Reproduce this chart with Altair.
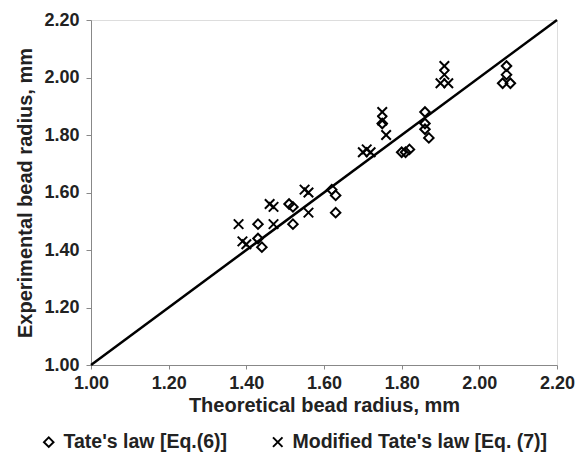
import altair as alt
import pandas as pd

# Tate's law [Eq.(6)]  (diamonds)
tate_x = [1.43, 1.44, 1.43, 1.52, 1.51, 1.52, 1.62, 1.63, 1.63, 1.75, 1.80, 1.81, 1.82,
          1.86, 1.86, 1.86, 1.87, 2.07, 2.07, 2.06, 2.08]
tate_y = [1.49, 1.41, 1.44, 1.55, 1.56, 1.49, 1.61, 1.59, 1.53, 1.84, 1.74, 1.74, 1.75,
          1.88, 1.84, 1.82, 1.79, 2.04, 2.01, 1.98, 1.98]

# Modified Tate's law [Eq. (7)]  (crosses)
mod_x = [1.38, 1.39, 1.40, 1.46, 1.47, 1.47, 1.55, 1.56, 1.56, 1.70, 1.71, 1.72,
         1.75, 1.75, 1.76, 1.90, 1.91, 1.91, 1.92]
mod_y = [1.49, 1.43, 1.42, 1.56, 1.55, 1.49, 1.61, 1.60, 1.53, 1.74, 1.75, 1.74,
         1.88, 1.85, 1.80, 1.98, 2.04, 2.01, 1.98]

# 1:1 line
line_x = [1.0, 2.2]
line_y = [1.0, 2.2]

series = ["Tate's law [Eq.(6)]", "Modified Tate's law [Eq. (7)]"]
ticks = [1.0, 1.2, 1.4, 1.6, 1.8, 2.0, 2.2]

pts = pd.concat([
    pd.DataFrame({"x": tate_x, "y": tate_y, "s": series[0]}),
    pd.DataFrame({"x": mod_x, "y": mod_y, "s": series[1]}),
])
ln = pd.DataFrame({"x": line_x, "y": line_y})

FONT = "Liberation Sans"
TXT = "#222222"

xscale = alt.Scale(domain=[1.0, 2.2], nice=False, zero=False)
yscale = alt.Scale(domain=[1.0, 2.2], nice=False, zero=False)

xaxis = alt.Axis(values=ticks, format=".2f", title="Theoretical bead radius, mm",
                 grid=False, domainColor="#888888", tickColor="#888888", tickSize=4,
                 labelFlush=False,
                 labelFont=FONT, labelFontSize=18, labelFontWeight="bold", labelColor=TXT,
                 labelPadding=5, titleFont=FONT, titleFontSize=20, titleFontWeight="bold",
                 titleColor=TXT, titlePadding=3)
yaxis = alt.Axis(values=ticks, format=".2f", title="Experimental bead radius, mm",
                 grid=False, domainColor="#888888", tickColor="#888888", tickSize=5,
                 labelFlush=False,
                 labelFont=FONT, labelFontSize=18, labelFontWeight="bold", labelColor=TXT,
                 labelPadding=7, titleFont=FONT, titleFontSize=20, titleFontWeight="bold",
                 titleColor=TXT, titlePadding=8)

line = alt.Chart(ln).mark_line(color="black", strokeWidth=2.5).encode(
    x=alt.X("x:Q", scale=xscale, axis=xaxis),
    y=alt.Y("y:Q", scale=yscale, axis=yaxis),
)

points = alt.Chart(pts).mark_point(filled=False, strokeWidth=2, opacity=1, color="black").encode(
    x=alt.X("x:Q", scale=xscale),
    y=alt.Y("y:Q", scale=yscale),
    shape=alt.Shape("s:N", scale=alt.Scale(domain=series,
                    range=["diamond", "M-1,-1L1,1M-1,1L1,-1"]),
                    legend=alt.Legend(title=None, orient="none", direction="horizontal",
                                      legendX=-52, legendY=412, columnPadding=40,
                                      symbolStrokeColor="black", symbolStrokeWidth=2,
                                      symbolSize=90, symbolFillColor="transparent",
                                      labelFont=FONT, labelFontSize=19.5, labelFontWeight="bold",
                                      labelColor=TXT, labelOffset=5, labelLimit=0)),
    size=alt.value(90),
)

chart = alt.layer(line, points).properties(
    width=466, height=345,
    autosize=alt.AutoSizeParams(type="none"),
    padding={"left": 83, "top": 12, "right": 20, "bottom": 89},
).configure_view(stroke=None).configure(background="white")

chart.save("out.html", embed_options={"renderer": "svg", "actions": False})
